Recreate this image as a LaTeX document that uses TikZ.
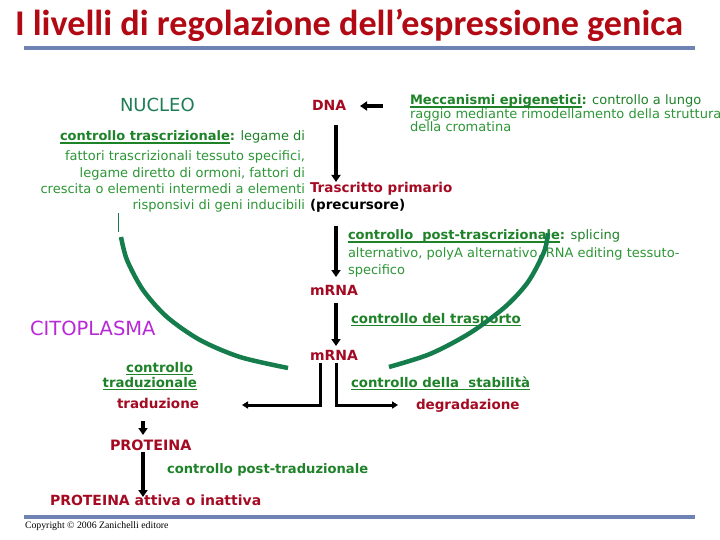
\documentclass[tikz,border=0pt]{standalone}
\usepackage{fontspec}
\setmainfont{DejaVu Sans}
\newfontfamily\titlefont{Carlito}
\newfontfamily\cprfont{Liberation Serif}
\usetikzlibrary{arrows.meta}
\definecolor{titlered}{RGB}{178,10,20}
\definecolor{lblred}{RGB}{165,10,35}
\definecolor{txtgreen}{RGB}{45,150,55}
\definecolor{ulgreen}{RGB}{30,130,40}
\definecolor{nucgreen}{RGB}{30,125,85}
\definecolor{arcgreen}{RGB}{20,125,75}
\definecolor{cytopurple}{RGB}{185,40,215}
\definecolor{rulecol}{RGB}{110,130,180}
\newcommand\ulb[1]{\setbox0\hbox{\bfseries\color{ulgreen}#1}\rlap{\color{ulgreen}\rule[-2.8pt]{\wd0}{1.3pt}}\box0}
\tikzset{
  txt/.style={inner sep=0pt, outer sep=0pt},
  lbl/.style={txt, font=\fontsize{13.5}{15}\selectfont\bfseries, text=lblred},
  gtxt/.style={txt, font=\fontsize{13}{14}\selectfont, text=txtgreen},
  gbold/.style={txt, font=\fontsize{13.3}{15}\selectfont\bfseries, text=ulgreen},
  bigarrow/.style={line width=4pt, -{Triangle[width=9pt,length=7pt]}},
  smallarrow/.style={line width=3pt, -{Triangle[width=7pt,length=6pt]}},
  hrule/.style={rulecol, line width=4pt},
  envelope/.style={arcgreen, line width=4.5pt}
}
\begin{document}
\begin{tikzpicture}[x=1pt,y=-1pt]
\useasboundingbox[fill=white] (0,0) rectangle (720,540);
% title
\node[txt, anchor=base west, text=titlered] (title) at (15,36)
  {\resizebox{668pt}{!}{\titlefont\bfseries I livelli di regolazione dell’espressione genica}};
\coordinate (r1a) at (24,48); \coordinate (r1b) at (695,48);
\draw[hrule] (r1a) -- (r1b);
% nucleus
\node[txt, anchor=base west, text=nucgreen, font=\fontsize{18}{20}\selectfont] (nucleo) at (120,112) {NUCLEO};
\node[lbl, anchor=base west, font=\fontsize{14}{16}\selectfont\bfseries] (dna) at (312,111) {DNA};
\node[gtxt, anchor=base west] (epi1) at (410,105) {\ulb{Meccanismi epigenetici}\textbf{:} controllo a lungo};
\node[gtxt, anchor=base west] (epi2) at (410,119) {raggio mediante rimodellamento della struttura};
\node[gtxt, anchor=base west] (epi3) at (410,132) {della cromatina};
\coordinate (epiA) at (383,106); \coordinate (dnaR) at (360,106);
\draw[bigarrow] (epiA) -- (dnaR);
% transcriptional control
\node[gtxt, anchor=base east] (tc1) at (305,141) {\ulb{controllo trascrizionale}\textbf{:} legame di};
\node[gtxt, anchor=base east] (tc2) at (305,161) {fattori trascrizionali tessuto specifici,};
\node[gtxt, anchor=base east] (tc3) at (305,178) {legame diretto di ormoni, fattori di};
\node[gtxt, anchor=base east] (tc4) at (305,194) {crescita o elementi intermedi a elementi};
\node[gtxt, anchor=base east] (tc5) at (305,210) {risponsivi di geni inducibili};
% primary transcript
\node[lbl, anchor=base west] (tras) at (310,193) {Trascritto primario};
\node[lbl, anchor=base west, text=black] (prec) at (310,210) {(precursore)};
\coordinate (a1s) at (336,125); \coordinate (a1e) at (336,182);
\draw[bigarrow] (a1s) -- (a1e);
% post-transcriptional
\node[gtxt, anchor=base west] (pt1) at (348,240) {\ulb{controllo\ \ post-trascrizionale}\textbf{:} splicing};
\node[gtxt, anchor=base west] (pt2) at (348,257) {alternativo, polyA alternativo, RNA editing tessuto-};
\node[gtxt, anchor=base west] (pt3) at (348,274) {specifico};
\coordinate (a2s) at (336,226); \coordinate (a2e) at (336,277);
\draw[bigarrow] (a2s) -- (a2e);
\node[lbl, anchor=base west, font=\fontsize{14}{16}\selectfont\bfseries] (mrna1) at (310,295) {mRNA};
\node[gbold, anchor=base west] (trasp) at (351,323) {\ulb{controllo del trasporto}};
\coordinate (a3s) at (336,303); \coordinate (a3e) at (336,346);
\draw[bigarrow] (a3s) -- (a3e);
\node[lbl, anchor=base west, font=\fontsize{14}{16}\selectfont\bfseries] (mrna2) at (310,360) {mRNA};
% nuclear envelope
\coordinate (tick1) at (118,213); \coordinate (tick2) at (118,232);
\draw[arcgreen, line width=1pt] (tick1) -- (tick2);
\draw[envelope] plot[smooth] coordinates {(121,237) (127,260) (143,290) (167,317) (200,340) (240,357) (288,368)};
\draw[envelope] plot[smooth] coordinates {(389,367) (430,354) (470,333) (505,307) (528,282) (544,252) (548,233)};
% cytoplasm
\node[txt, anchor=base west, text=cytopurple, font=\fontsize{19.5}{21}\selectfont] (cito) at (30,335) {CITOPLASMA};
\node[gbold, anchor=base east] (ct1) at (193,372) {\ulb{controllo}};
\node[gbold, anchor=base east] (ct2) at (197,387) {\ulb{traduzionale}};
\node[gbold, anchor=base west] (stab) at (351,387) {\ulb{controllo della\ \ stabilità}};
\node[lbl, anchor=base west] (trad) at (117,408) {traduzione};
\node[lbl, anchor=base west] (degr) at (416,409) {degradazione};
\coordinate (la) at (320,363); \coordinate (lb) at (242,405);
\coordinate (ra) at (336,363); \coordinate (rb) at (398,405);
\draw[smallarrow] (la) |- (lb);
\draw[smallarrow] (ra) |- (rb);
\node[lbl, anchor=base west, font=\fontsize{14.3}{16}\selectfont\bfseries] (prot) at (110,450) {PROTEINA};
\coordinate (a4s) at (143,421); \coordinate (a4e) at (143,435);
\draw[bigarrow] (a4s) -- (a4e);
\node[gbold, anchor=base west, font=\fontsize{13.1}{15}\selectfont\bfseries] (ptrad) at (167,473) {controllo post-traduzionale};
\coordinate (a5s) at (143,452); \coordinate (a5e) at (143,497);
\draw[bigarrow] (a5s) -- (a5e);
\node[lbl, anchor=base west, font=\fontsize{14}{16}\selectfont\bfseries] (prota) at (50,505) {PROTEINA attiva o inattiva};
% footer
\coordinate (r2a) at (24,517); \coordinate (r2b) at (695,517);
\draw[hrule] (r2a) -- (r2b);
\node[txt, anchor=base west, font=\cprfont\fontsize{9.8}{11}\selectfont] (copy) at (25,528) {Copyright © 2006 Zanichelli editore};
\end{tikzpicture}
\end{document}
